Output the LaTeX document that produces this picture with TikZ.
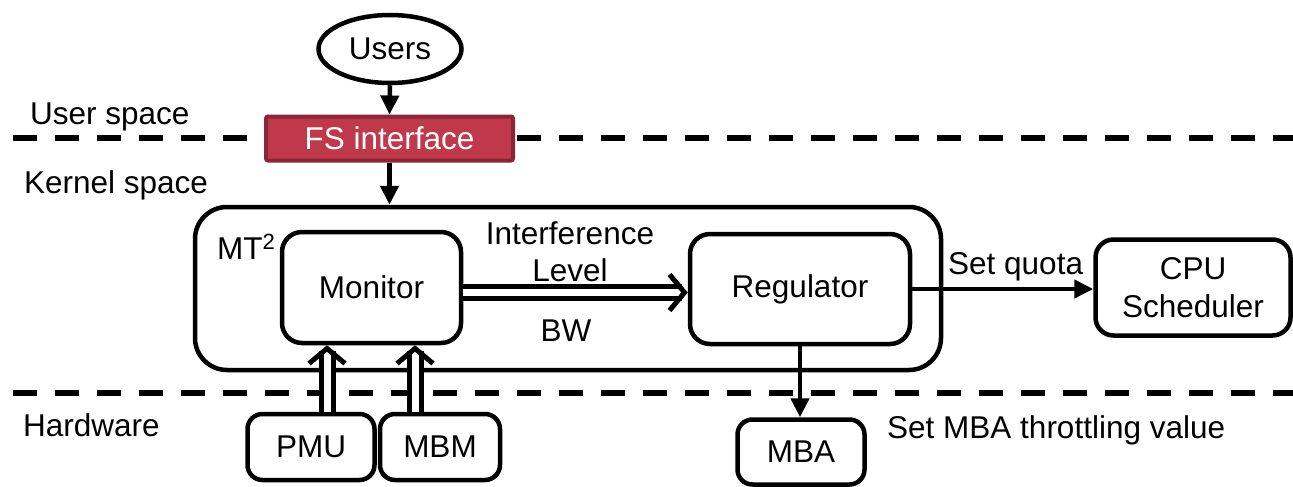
\documentclass[tikz,border=0pt]{standalone}
\usepackage{fontspec}
\setmainfont{Liberation Sans}
\usetikzlibrary{arrows.meta,shapes.geometric}
\definecolor{fsred}{HTML}{C0394B}
\definecolor{fsdark}{HTML}{8C2636}
\begin{document}
\begin{tikzpicture}[x=1pt,y=-1pt,
  font=\fontsize{31.5}{36}\selectfont,
  box/.style={draw, line width=4.5pt, rounded corners=18pt, align=center, inner sep=0pt},
  lbl/.style={inner sep=0pt},
  arr/.style={line width=4.5pt, -{Triangle[length=19pt,width=18pt]}},
  dbl/.style={draw, double, double distance=7pt, line width=5pt, -{Straight Barb[length=15pt,width=36pt,line width=5pt]}},
  sep/.style={line width=6pt, dash pattern=on 24pt off 18pt}]
\useasboundingbox (0,0) rectangle (1293,487);

% separators
\draw[sep] (13,138) -- (1293,138);
\draw[sep] (13,393) -- (1293,393);

% labels of spaces
\node[lbl, anchor=base west] (us) at (30,124) {User space};
\node[lbl, anchor=base west] (ks) at (24,193) {Kernel space};
\node[lbl, anchor=base west] (hw) at (23,436) {Hardware};

% nodes
\node[draw, ellipse, line width=4.5pt, minimum width=143pt, minimum height=68pt, inner sep=0pt] (users) at (390,49) {Users};
\node[draw=fsdark, fill=fsred, text=white, line width=4pt, rounded corners=2pt,
      minimum width=247pt, minimum height=44pt, inner sep=0pt] (fs) at (389.5,138.5) {FS interface};
\node[box, rounded corners=32pt, minimum width=746pt, minimum height=163pt] (mt) at (568,288.5) {};
\node[lbl, anchor=base west] (mtl) at (217,259) {MT\textsuperscript{2}};
\node[box, rounded corners=20pt, minimum width=179pt, minimum height=111pt] (mon) at (371.5,287.5) {Monitor};
\node[box, rounded corners=20pt, minimum width=220pt, minimum height=110pt] (reg) at (800,289) {Regulator};
\node[box, font=\fontsize{31.5}{38}\selectfont, minimum width=195pt, minimum height=96pt] (cpu) at (1193,287.5) {CPU\\Scheduler};
\node[box, rounded corners=15pt, minimum width=127pt, minimum height=66pt] (pmu) at (311,447) {PMU};
\node[box, rounded corners=15pt, minimum width=120pt, minimum height=66pt] (mbm) at (440,447) {MBM};
\node[box, rounded corners=15pt, minimum width=127pt, minimum height=65pt] (mba) at (801,452) {MBA};

% edge labels
\node[lbl, align=center, font=\fontsize{31.5}{37}\selectfont] (il) at (570,252) {Interference\\Level};
\node[lbl, anchor=base] (bw) at (566,341) {BW};
\node[lbl, anchor=base west] (sq) at (948,274) {Set quota};
\node[lbl, anchor=base west] (smba) at (887,438) {Set MBA throttling value};

% connectors
\draw[arr] (users.south) -- (fs.north);
\draw[arr] (fs.south) -- (fs.south |- mt.north);
\draw[dbl] ([yshift=-5pt]mon.east) -- ([yshift=-5pt]mon.east -| reg.west);
\draw[arr] (reg.east) -- (reg.east -| cpu.west);
\draw[arr] (reg.south) -- (reg.south |- mba.north);
\draw[dbl] ([xshift=16pt]pmu.north) -- ([xshift=16pt]pmu.north |- mon.south);
\draw[dbl] ([xshift=-25pt]mbm.north) -- ([xshift=-25pt]mbm.north |- mon.south);
\end{tikzpicture}
\end{document}
